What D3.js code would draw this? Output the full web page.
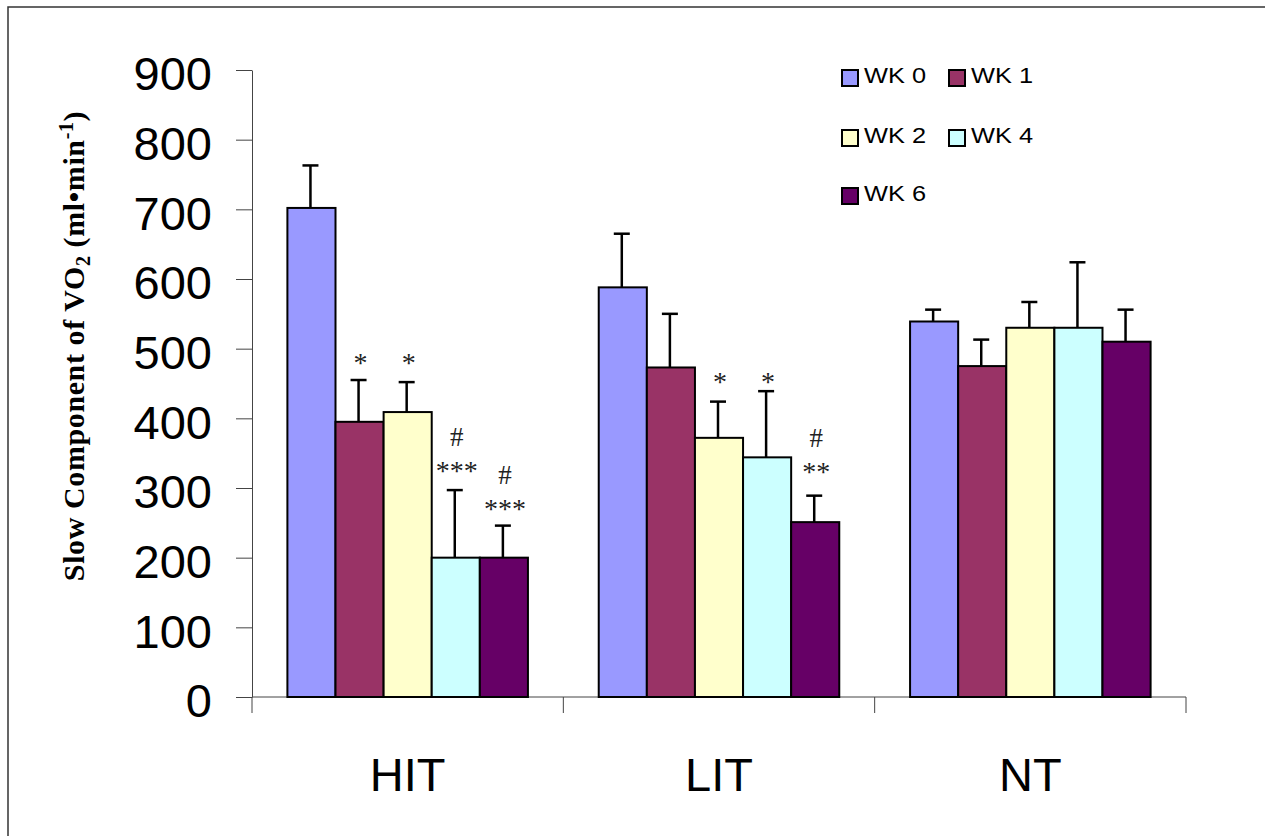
<!DOCTYPE html>
<html>
<head>
<meta charset="utf-8">
<script src="https://cdn.jsdelivr.net/npm/d3@7"></script>
<style>
  body { margin: 0; background: #fff; }
  svg { display: block; }
</style>
</head>
<body>
<svg id="chart" width="1265" height="836"></svg>
<script>
// ---- data ----
const categories = ["HIT", "LIT", "NT"];
const weeks = ["WK 0", "WK 1", "WK 2", "WK 4", "WK 6"];
const weekColors = ["#9999FF", "#993366", "#FFFFCC", "#CCFFFF", "#660066"];
const valuesHIT = [702, 395, 409, 200, 200];
const valuesLIT = [588, 473, 372, 344, 251];
const valuesNT  = [539, 475, 530, 530, 510];
const errorsHIT = [61, 60, 43, 97, 46];
const errorsLIT = [77, 77, 52, 95, 38];
const errorsNT  = [17, 38, 37, 94, 46];
const annotHIT = ["", "*", "*", "#\n***", "#\n***"];
const annotLIT = ["", "", "*", "*", "#\n**"];
const annotNT  = ["", "", "", "", ""];
// level (data units) of the lowest annotation line
const annotLevelHIT = [null, 488, 488, 333, 279];
const annotLevelLIT = [null, null, 461, 461, 332];
const annotLevelNT  = [null, null, null, null, null];
const yTicks = [0, 100, 200, 300, 400, 500, 600, 700, 800, 900];

const values = [valuesHIT, valuesLIT, valuesNT];
const errors = [errorsHIT, errorsLIT, errorsNT];
const annots = [annotHIT, annotLIT, annotNT];
const annotLevels = [annotLevelHIT, annotLevelLIT, annotLevelNT];

const rows = [];
categories.forEach((c, ci) => {
  weeks.forEach((w, wi) => {
    rows.push({cat: c, wk: w, wi, v: values[ci][wi], e: errors[ci][wi],
               a: annots[ci][wi], al: annotLevels[ci][wi]});
  });
});

// ---- layout ----
const svg = d3.select("#chart");
const y = d3.scaleLinear().domain([0, 900]).range([697, 70]);
const x0 = d3.scaleBand().domain(categories).range([252, 1186]).padding(0);
const gPad = 35.4;
const x1 = d3.scaleBand().domain(weeks).range([gPad, x0.bandwidth() - gPad]).padding(0);
const color = d3.scaleOrdinal().domain(weeks).range(weekColors);

// outer border
svg.append("rect").attr("x", 8).attr("y", 7).attr("width", 1270).attr("height", 840)
  .attr("fill", "none").attr("stroke", "#333").attr("stroke-width", 1.5);

// y axis
const yAxis = svg.append("g").attr("transform", "translate(252,0)")
  .call(d3.axisLeft(y).tickValues(yTicks).tickSize(16).tickSizeOuter(0).tickPadding(24));
yAxis.selectAll("path, line").attr("stroke", "#444").attr("stroke-width", 1);
yAxis.selectAll("text").attr("font-family", "'Liberation Sans', Arial, sans-serif")
  .attr("font-size", 47).attr("fill", "#000").attr("dy", "0.42em");

// x axis
const xAxisG = svg.append("g").attr("transform", "translate(0,697)");
xAxisG.append("line").attr("x1", 252).attr("x2", 1186).attr("y1", 0).attr("y2", 0)
  .attr("stroke", "#444").attr("stroke-width", 1);
const bounds = categories.map(c => x0(c)).concat([x0(categories[categories.length - 1]) + x0.bandwidth()]);
xAxisG.selectAll("line.tk").data(bounds).join("line").attr("class", "tk")
  .attr("x1", d => d).attr("x2", d => d).attr("y1", 0).attr("y2", 16)
  .attr("stroke", "#444").attr("stroke-width", 1);
xAxisG.selectAll("text.cat").data(categories).join("text").attr("class", "cat")
  .attr("x", d => x0(d) + x0.bandwidth() / 2).attr("y", 94)
  .attr("text-anchor", "middle")
  .attr("font-family", "'Liberation Sans', Arial, sans-serif").attr("font-size", 47)
  .text(d => d);

// bars
const barG = svg.append("g");
barG.selectAll("rect").data(rows).join("rect")
  .attr("x", d => x0(d.cat) + x1(d.wk)).attr("width", x1.bandwidth())
  .attr("y", d => y(d.v)).attr("height", d => y(0) - y(d.v))
  .attr("fill", d => color(d.wk)).attr("stroke", "#000").attr("stroke-width", 2);

// error bars
const errG = svg.append("g").attr("stroke", "#000").attr("stroke-width", 2.5);
const cx = d => x0(d.cat) + x1(d.wk) + x1.bandwidth() / 2 - 1;
errG.selectAll("line.v").data(rows).join("line").attr("class", "v")
  .attr("x1", cx).attr("x2", cx).attr("y1", d => y(d.v)).attr("y2", d => y(d.v + d.e));
errG.selectAll("line.c").data(rows).join("line").attr("class", "c")
  .attr("x1", d => cx(d) - 8).attr("x2", d => cx(d) + 8)
  .attr("y1", d => y(d.v + d.e)).attr("y2", d => y(d.v + d.e));

// annotations
const annG = svg.append("g").attr("font-family", "'Liberation Serif', 'Times New Roman', serif")
  .attr("fill", "#222").attr("text-anchor", "middle");
rows.filter(d => d.a).forEach(d => {
  const lines = d.a.split("\n").reverse();
  lines.forEach((ln, i) => {
    const center = y(d.al) - i * 28;
    const isHash = ln.startsWith("#");
    annG.append("text").attr("x", cx(d) + 2).attr("y", center + (isHash ? 9 : 15))
      .attr("font-size", isHash ? 27 : 28).text(ln);
  });
});

// legend
const legendPos = [[842, 70], [949, 70], [842, 130], [949, 130], [842, 188]];
const legG = svg.append("g");
weeks.forEach((w, i) => {
  const [lx, ly] = legendPos[i];
  legG.append("rect").attr("x", lx).attr("y", ly).attr("width", 16).attr("height", 16)
    .attr("fill", color(w)).attr("stroke", "#000").attr("stroke-width", 2);
  legG.append("text").attr("x", lx + 22).attr("y", ly + 12.5)
    .attr("font-family", "'Liberation Sans', Arial, sans-serif").attr("font-size", 22)
    .attr("textLength", 62).attr("lengthAdjust", "spacingAndGlyphs")
    .text(w);
});

// y label
const yl = svg.append("text")
  .attr("transform", "translate(84,346) rotate(-90)")
  .attr("text-anchor", "middle")
  .attr("font-family", "'Liberation Serif', 'Times New Roman', serif")
  .attr("font-weight", "bold").attr("font-size", 30).attr("letter-spacing", 0.6);
yl.append("tspan").text("Slow Component of VO");
yl.append("tspan").attr("font-size", 20).attr("dy", 6).text("2");
yl.append("tspan").attr("dy", -6).text(" (ml\u2022min");
yl.append("tspan").attr("font-size", 20).attr("dy", -11).text("-1");
yl.append("tspan").attr("dy", 11).text(")");
</script>
</body>
</html>
